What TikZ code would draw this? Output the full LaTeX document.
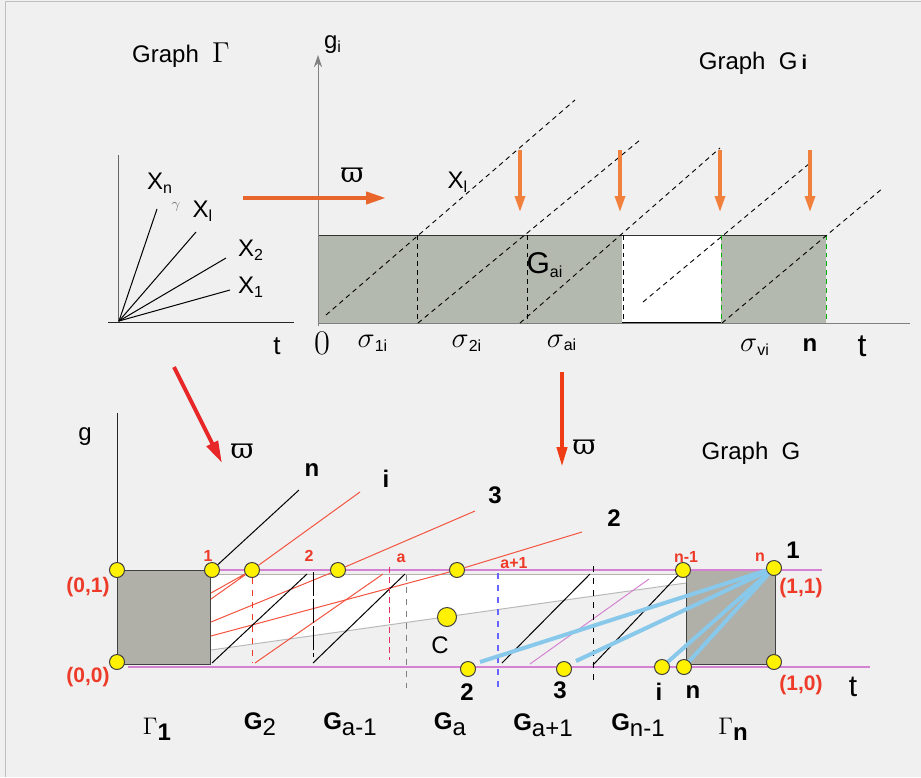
\documentclass[tikz,border=0pt]{standalone}
\usepackage{fontspec}
\setmainfont{Liberation Sans}
\newfontfamily\grk{DejaVu Serif}
\usetikzlibrary{arrows.meta}
\definecolor{paper}{RGB}{240,240,240}
\definecolor{slate}{RGB}{180,185,175}
\definecolor{stone}{RGB}{176,176,168}
\definecolor{flame}{RGB}{232,102,44}
\definecolor{tangerine}{RGB}{240,128,60}
\definecolor{crimson}{RGB}{232,40,40}
\definecolor{vermil}{RGB}{240,60,20}
\definecolor{rose}{RGB}{214,130,210}
\definecolor{coral}{RGB}{242,84,64}
\definecolor{sky}{RGB}{135,200,235}
\definecolor{lab}{RGB}{238,58,40}
\definecolor{cerise}{RGB}{232,48,96}
\newcommand\fsz[1]{\fontsize{#1}{#1}\selectfont}
\newcommand\vpi{{\grk ϖ}}
\tikzset{
  ydot/.style={circle,draw=black!75,fill=yellow,inner sep=0pt,minimum size=7.5pt},
  rednum/.style={text=lab,font=\fsz{8}\bfseries},
  redpt/.style={text=lab,font=\fsz{10.5}\bfseries},
  bignum/.style={font=\fsz{12}\bfseries},
  ddash/.style={dash pattern=on 2.4pt off 2pt,line width=.45pt},
  skyline/.style={sky,line width=2pt},
}
\begin{document}
\begin{tikzpicture}[x=.5pt,y=-.5pt,font=\fsz{12},line width=.5pt]
\fill[paper] (0,0) rectangle (921,777);
\useasboundingbox (0,0) rectangle (921,777);
\draw[black!25] (5,777) -- (5,1.5) -- (921,1.5);

% graph Gamma
\node (tgam) at (181,55) {Graph\ \ {\fsz{14}$\Gamma$}};
\draw[black!60] (118,155) -- (118,322);
\draw[black!85] (108,322) -- (294,322);
\coordinate (o) at (119,321);
\foreach \n/\p in {xn/{157,209},xl/{196,232},x2/{226,258},x1/{230,290}}
  \draw (o) -- (\p) coordinate (\n);
\node (lxn) at (160,183) {X\textsubscript{n}};
\node[text=gray,font=\fsz{7}] (lgam) at (176,207) {$\gamma$};
\node (lxl) at (203,211) {X\textsubscript{l}};
\node (lx2) at (251,250) {X\textsubscript{2}};
\node (lx1) at (251,287) {X\textsubscript{1}};
\node[font=\fsz{13}] (lt0) at (277,346) {t};

% graph G_i
\fill[slate] (318,235) rectangle (622,323);
\fill[white] (622,235) rectangle (721,323);
\fill[slate] (721,235) rectangle (826,323);
\draw[black!80] (318,235) -- (826,235);
\draw[line width=1pt] (622,323) -- (721,323);
\draw[gray,-{Stealth[length=6pt,width=4pt]}] (318,326) -- (318,55);
\draw[gray] (318,323) -- (910,323);
\foreach \x in {417,527,623} \draw[ddash] (\x,235) -- (\x,323);
\foreach \x in {721,826} \draw[green!70!black,ddash] (\x,235) -- (\x,323);
\foreach \a/\b in {{326,315}/{575,100},{418,323}/{640,140},{520,323}/{720,148},{643,302}/{810,163},{722,323}/{883,188}}
  \draw[ddash] (\a) -- (\b);
\foreach \x in {520,620,720,810}
  \draw[tangerine,line width=1.6pt,-{Triangle[length=8pt,width=5pt]}] (\x,150) -- (\x,212);
\draw[flame,line width=2pt,-{Triangle[length=10pt,width=6pt]}] (243,198) -- (386,198);
\node[font=\fsz{14}] (w0) at (352,175) {\vpi};
\node (gi) at (333,45) {g\textsubscript{i}};
\node (tgi) at (753,63) {Graph\ \ G\,{\fsz{10}\bfseries i}};
\node (lxi) at (458,182) {X\textsubscript{l}};
\node (gai) at (545,265) {{\fsz{15}$\mathrm{G}$}\textsubscript{ai}};
\node[font=\fsz{16}] (z0) at (322,343) {$0$};
\node (s1) at (373,343) {{\fsz{14}$\sigma$}\textsubscript{1i}};
\node (s2) at (467,343) {{\fsz{14}$\sigma$}\textsubscript{2i}};
\node (sa) at (562,343) {{\fsz{14}$\sigma$}\textsubscript{ai}};
\node (sv) at (755,347) {{\fsz{14}$\sigma$}\textsubscript{vi}};
\node[bignum] (nn) at (810,345) {n};
\node[font=\fsz{16}] (lt1) at (862,346) {t};

% maps
\draw[crimson,line width=2pt,-{Triangle[length=11pt,width=6pt]}] (174,367) -- (222,463);
\node[font=\fsz{14}] (w1) at (242,451) {\vpi};
\draw[vermil,line width=2pt,-{Triangle[length=10pt,width=5pt]}] (562,372) -- (562,467);
\node[font=\fsz{14}] (w2) at (584,447) {\vpi};
\node (tg) at (751,453) {Graph\ \ G};

% graph G
\draw[black!85] (117,413) -- (117,570);
\node (lg) at (85,437) {g};
\filldraw[fill=stone,draw=black!75] (117,570) rectangle (210,664);
\filldraw[fill=stone,draw=black!75] (686,570) rectangle (775,664);
\fill[white] (211,574) -- (686,574) -- (686,583) -- (211,650) -- cycle;
\draw[gray!60] (211,574) -- (686,574);
\draw[gray!55] (211,650) -- (686,583);
\draw[rose,line width=.9pt] (210,570) -- (822,570);
\draw[rose,line width=.9pt] (128,667) -- (870,667);

\node[ydot] (a01) at (117,570) {};
\node[ydot] (a00) at (117,662) {};
\node[ydot] (b1) at (212,570) {};
\node[ydot] (b2) at (252,570) {};
\node[ydot] (b3) at (338,570) {};
\node[ydot] (b4) at (457,570) {};
\node[ydot] (bn1) at (683,570) {};
\node[ydot] (bn) at (774,568) {};
\node[ydot] (a10) at (774,662) {};
\node[ydot] (c2) at (468,669) {};
\node[ydot] (c3) at (564,669) {};
\node[ydot] (ci) at (662,667) {};
\node[ydot] (cn) at (684,667) {};
\node[ydot,minimum size=9.5pt] (cc) at (447,617) {};

\coordinate (tn) at (299,490);
\coordinate (ti) at (360,492);
\coordinate (t3) at (475,511);
\coordinate (t2) at (582,532);
\coordinate (ei) at (211,599);
\coordinate (ej) at (211,593);
\coordinate (e3) at (211,622);
\coordinate (e2) at (211,636);
\draw (tn) -- (b1);
\draw[coral] (ti) -- (b2) (b2) -- (ei) (b2) -- (ej);
\draw[coral] (t3) -- (b3) (b3) -- (e3);
\draw[coral] (t2) -- (b4) (b4) -- (e2);
\draw[coral] (255,663) coordinate (r0) -- (383,574) coordinate (r1);
\foreach \a/\b in {{212,663}/{307,574},{313,663}/{405,574},{502,663}/{590,574}}
  \draw (\a) -- (\b);
\draw (593,665) coordinate (k0) -- (bn1);
\draw[rose] (530,664) coordinate (p0) -- (649,579) coordinate (p1);

\draw[lab,dashed] (b2) -- (252,663);
\draw[dash pattern=on 12pt off 1.5pt] (313,572) -- (313,657);
\draw[cerise,densely dashed] (389,567) -- (389,660);
\draw[gray,dashed] (406,575) -- (406,688);
\draw[blue!60,dashed,line width=.7pt] (498,573) -- (498,688);
\draw[dashed] (593,566) -- (593,683);

\coordinate (q2) at (480,662);
\coordinate (q3) at (576,661);
\draw[skyline] (bn) -- (q2) (bn) -- (q3) (bn) -- (ci) (bn) -- (cn);

\node[redpt] (p01) at (88,587) {(0,1)};
\node[redpt] (p00) at (88,677) {(0,0)};
\node[redpt] (p11) at (801,588) {(1,1)};
\node[redpt] (p10) at (801,685) {(1,0)};
\node[font=\fsz{15}] (lt2) at (853,687) {t};
\node (lc) at (440,645) {C};
\node[rednum] (m1) at (208,556) {1};
\node[rednum] (m2) at (309,556) {2};
\node[rednum] (ma) at (401,558) {a};
\node[rednum] (ma1) at (514,563) {a+1};
\node[rednum] (mn1) at (686,557) {n-1};
\node[rednum] (mn) at (760,557) {n};
\node[bignum] (un) at (312,470) {n};
\node[bignum] (ui) at (386,479) {i};
\node[bignum] (u3) at (495,495) {3};
\node[bignum] (u2) at (614,518) {2};
\node[bignum] (u1) at (793,550) {1};
\node[bignum] (v2) at (467,692) {2};
\node[bignum] (v3) at (560,690) {3};
\node[bignum] (vi) at (659,692) {i};
\node[bignum] (vn) at (693,692) {n};
\node (gam1) at (157,729) {{\fsz{13}$\Gamma$}\raisebox{-3pt}{\bfseries 1}};
\node (gg2) at (260,724) {\textbf{G}\raisebox{-3pt}{2}};
\node (gga1) at (350,724) {\textbf{G}\raisebox{-3pt}{a-1}};
\node (gga) at (450,724) {\textbf{G}\raisebox{-3pt}{a}};
\node (ggb) at (543,725) {\textbf{G}\raisebox{-3pt}{a+1}};
\node (ggn) at (638,725) {\textbf{G}\raisebox{-3pt}{n-1}};
\node (gamn) at (733,729) {{\fsz{13}$\Gamma$}\raisebox{-3pt}{\bfseries n}};
\end{tikzpicture}
\end{document}
